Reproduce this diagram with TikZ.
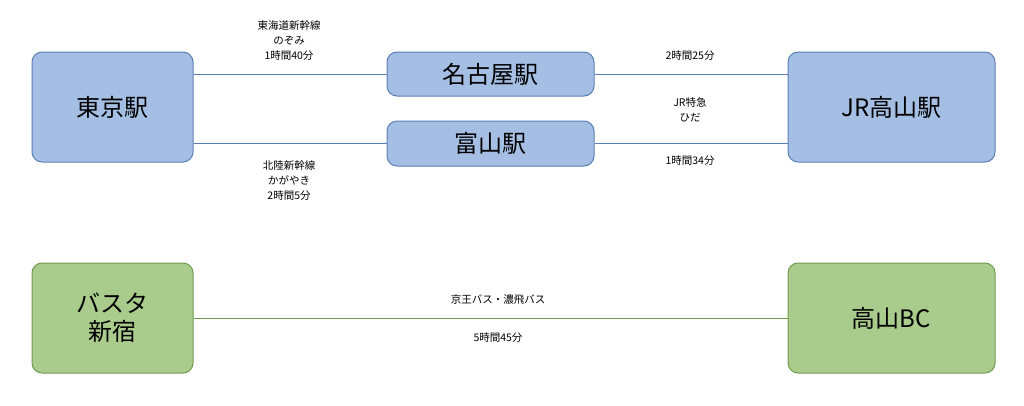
\documentclass[tikz,border=0pt]{standalone}
\usepackage{fontspec}
\setmainfont{Noto Sans CJK JP}
\definecolor{stnblue}{HTML}{A4BFE3}
\definecolor{stnblueline}{HTML}{5B7FB5}
\definecolor{busgreen}{HTML}{A9CC8D}
\definecolor{busgreenline}{HTML}{6E9A50}
\tikzset{
  station/.style={draw=stnblueline,fill=stnblue,rounded corners=10pt,line width=1pt,
    inner sep=0pt,font=\fontsize{24}{28}\selectfont,align=center},
  bus/.style={station,draw=busgreenline,fill=busgreen},
  route/.style={stnblueline,line width=0.6pt},
  busroute/.style={busgreenline,line width=0.6pt},
  info/.style={font=\fontsize{10.5}{15}\selectfont,align=center}
}
\begin{document}
\begin{tikzpicture}[x=1pt,y=-1pt]
  \useasboundingbox (0,0) rectangle (1024,405);

  % Stations
  \node[station,minimum width=161pt,minimum height=110pt] (tokyo) at (112.5,107) {東京駅};
  \node[station,minimum width=207pt,minimum height=44pt] (nagoya) at (490.5,74) {名古屋駅};
  \node[station,minimum width=207pt,minimum height=45pt] (toyama) at (490.5,143.5) {富山駅};
  \node[station,minimum width=207pt,minimum height=110pt] (takayama) at (891.5,107) {JR高山駅};

  % Bus terminals
  \node[bus,minimum width=161pt,minimum height=110pt] (shinjuku) at (112.5,318) {バスタ\\新宿};
  \node[bus,minimum width=207pt,minimum height=110pt] (takayamabc) at (891.5,318) {高山BC};

  % Rail routes
  \draw[route] (tokyo.east |- nagoya.west) -- (nagoya.west);
  \draw[route] (tokyo.east |- toyama.west) -- (toyama.west);
  \draw[route] (nagoya.east) -- (takayama.west |- nagoya.east);
  \draw[route] (toyama.east) -- (takayama.west |- toyama.east);

  % Bus route
  \draw[busroute] (shinjuku.east) -- (takayamabc.west);

  % Labels
  \node[info] (tokaido) at (289,41) {東海道新幹線\\のぞみ\\1時間40分};
  \node[info] (hokuriku) at (289,181) {北陸新幹線\\かがやき\\2時間5分};
  \node[info] (nagoyatime) at (690,56) {2時間25分};
  \node[info] (hida) at (690,110) {JR特急\\ひだ};
  \node[info] (toyamatime) at (690,161) {1時間34分};
  \node[info] (buslines) at (498,300) {京王バス・濃飛バス};
  \node[info] (bustime) at (498,338) {5時間45分};
\end{tikzpicture}
\end{document}
